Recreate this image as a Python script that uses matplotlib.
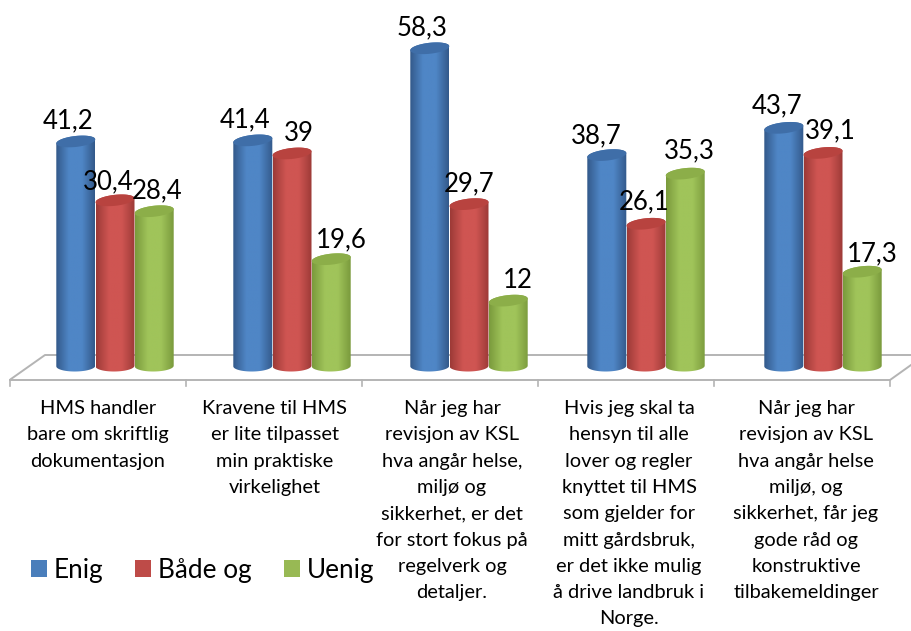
import numpy as np
import matplotlib
matplotlib.use("Agg")
import matplotlib.pyplot as plt
from matplotlib.colors import LinearSegmentedColormap
from matplotlib.patches import PathPatch, Rectangle
from matplotlib.path import Path
from matplotlib.transforms import Affine2D

plt.rcParams['font.family'] = ['Lato', 'DejaVu Sans']

categories = [
    "HMS handler\nbare om skriftlig\ndokumentasjon",
    "Kravene til HMS\ner lite tilpasset\nmin praktiske\nvirkelighet",
    "Når jeg har\nrevisjon av KSL\nhva angår helse,\nmiljø og\nsikkerhet, er det\nfor stort fokus på\nregelverk og\ndetaljer.",
    "Hvis jeg skal ta\nhensyn til alle\nlover og regler\nknyttet til HMS\nsom gjelder for\nmitt gårdsbruk,\ner det ikke mulig\nå drive landbruk i\nNorge.",
    "Når jeg har\nrevisjon av KSL\nhva angår helse\nmiljø, og\nsikkerhet, får jeg\ngode råd og\nkonstruktive\ntilbakemeldinger",
]
series_names = ["Enig", "Både og", "Uenig"]
enig = [41.2, 41.4, 58.3, 38.7, 43.7]
baade_og = [30.4, 39, 29.7, 26.1, 39.1]
uenig = [28.4, 19.6, 12, 35.3, 17.3]
series = [enig, baade_og, uenig]

# layout (pixels)
W, H = 911, 631
BASE_PX, PX_PER_UNIT = 366.0, 5.45
X0_PX, GROUP_PX = 115.0, 177.0
BAR_PX, STEP_PX = 39.0, 39.2
palettes = [
    ("#33598a", "#4f86c6", "#3f6ea8", "#35608f"),
    ("#9c3a37", "#cf5552", "#b8433f", "#a33f3c"),
    ("#7a9a3c", "#a0c45a", "#8cae49", "#7d9b40"),
]
legend_colors = ["#4a7ebb", "#be4b48", "#98b954"]
label_offsets = [
    [(-8, 21), (-8, 21), (-8, 20), (-11, 19), (-7, 22)],
    [(-7, 19), (7, 20), (0, 20), (-2, 22), (7, 22)],
    [(3, 20), (10, 19), (10, 20), (4, 23), (10, 18)],
]

fig = plt.figure(figsize=(W / 100, H / 100), dpi=100, facecolor="white")
ax = fig.add_axes([0, 0, 1, 1])
xlim = (-X0_PX / GROUP_PX, (W - X0_PX) / GROUP_PX)
ylim = (-(H - BASE_PX) / PX_PER_UNIT, BASE_PX / PX_PER_UNIT)

# floor and axis ticks, in figure pixels
px = Affine2D().scale(1 / W, -1 / H).translate(0, 1) + fig.transFigure
floor = "#b4b4b4"
ax.plot([11, 45, 911], [379, 355, 355], color=floor, lw=1.4, transform=px, zorder=1)
ax.plot([10, 890, 911], [380, 380, 365], color=floor, lw=1.4, transform=px, zorder=1)
for t in np.linspace(10, 890, 6):
    ax.plot([t, t], [380, 386], color=floor, lw=1.2, transform=px, zorder=1)

def ell(cx, cy, a, b, tilt, t):
    return cx + a * np.cos(t), cy + b * np.sin(t) + tilt * np.cos(t)

a = BAR_PX / GROUP_PX / 2
bt, tt, tilt_t = 5.5 / PX_PER_UNIT, 5.5 / PX_PER_UNIT, 2.0 / PX_PER_UNIT
for j, vals in enumerate(series):
    edge, mid, top, dark = palettes[j]
    cmap = LinearSegmentedColormap.from_list("c", [edge, mid, mid, edge], N=128)
    grad = cmap(np.linspace(0, 1, 128))[None, :, :]
    for i, v in enumerate(vals):
        cx = i + (j - 1) * STEP_PX / GROUP_PX
        t = np.linspace(np.pi, 2 * np.pi, 40)
        xb, yb = ell(cx, 0, a, bt, 0.3 / PX_PER_UNIT, t)
        xt, yt = ell(cx, v, a, tt, tilt_t, np.linspace(0, np.pi, 40))
        body = np.column_stack([np.r_[xb, xt], np.r_[yb, yt]])
        im = ax.imshow(grad, extent=(cx - a, cx + a, -2, v + 2), aspect="auto",
                       zorder=3 + i * 0.1 + j * 0.01, interpolation="bilinear")
        clip = PathPatch(Path(np.vstack([body, body[0]]), closed=True),
                         transform=ax.transData, fc="none", ec="none")
        ax.add_patch(clip)
        im.set_clip_path(clip)
        tx, ty = ell(cx, v, a, tt, tilt_t, np.linspace(0, 2 * np.pi, 60))
        ax.fill(tx, ty, color=top, lw=0, zorder=3 + i * 0.1 + j * 0.01 + 0.001)
        ax.annotate(str(v).replace(".", ","), (cx, v),
                    xytext=label_offsets[j][i], textcoords="offset pixels",
                    ha="center", va="center", fontsize=18.5, color="black", zorder=6)

for i, c in enumerate(categories):
    ax.text(i - 17 / GROUP_PX, (BASE_PX - 400) / PX_PER_UNIT, c, ha="center", va="top",
            fontsize=14.4, linespacing=1.665, color="black", zorder=6)

handles = [Rectangle((0, 0), 1, 1, fc=c, ec="none") for c in legend_colors]
ax.legend(handles, series_names, loc="lower left", bbox_to_anchor=(31 / W, 1 - 583 / H),
          ncol=3, frameon=False, fontsize=18.8, handlelength=0.61, handleheight=0.61,
          handletextpad=0.27, columnspacing=1.22, borderpad=0, borderaxespad=0)

ax.set_xlim(xlim)
ax.set_ylim(ylim)
ax.axis("off")
fig.savefig("out.png", dpi=100, facecolor="white")
